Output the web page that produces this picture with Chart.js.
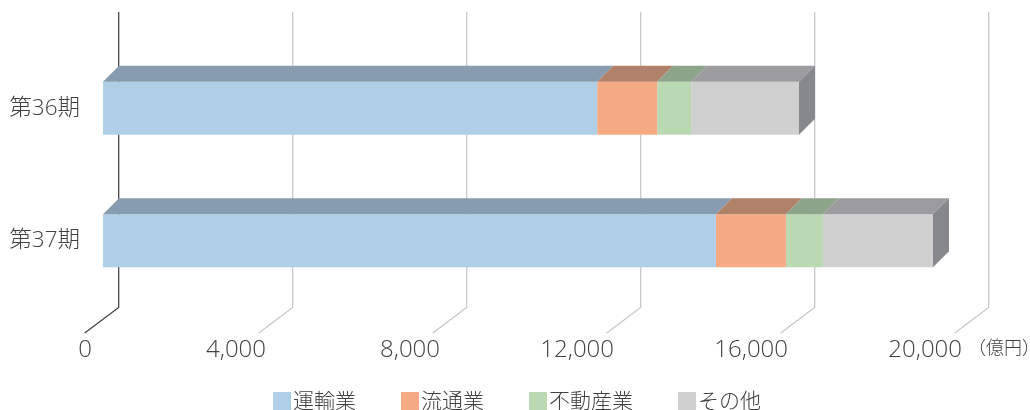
<!DOCTYPE html>
<html lang="ja">
<head>
<meta charset="utf-8">
<title>第36期 第37期</title>
<script src="https://cdn.jsdelivr.net/npm/chart.js@4/dist/chart.umd.min.js"></script>
<style>
    html, body { margin: 0; padding: 0; background: #fff; overflow: hidden; width: 1030px; height: 410px; }
    #wrap { position: relative; width: 1030px; height: 410px; }
    #legend { position: absolute; left: 273px; top: 385px; display: flex; font: 300 21px "Noto Sans CJK JP", sans-serif; color: #404040; line-height: 28px; white-space: nowrap; }
    #legend .item { display: flex; margin-right: 45px; }
    #legend .box { width: 18px; height: 18px; margin: 7px 2px 0 0; }
</style>
</head>
<body>
<div id="wrap">
    <canvas id="chart" width="1030" height="410"></canvas>
    <div id="legend"></div>
</div>
<script>
const categories = ["第36期", "第37期"];
const seriesNames = ["運輸業", "流通業", "不動産業", "その他"];
const transport = [11360, 14090];
const retail = [1380, 1610];
const realEstate = [780, 850];
const other = [2480, 2530];
const xTicks = [0, 4000, 8000, 12000, 16000, 20000];
const xTickLabels = ["0", "4,000", "8,000", "12,000", "16,000", "20,000"];
const unitLabel = "（億円）";

const frontColors = ["#AFCFE7", "#F5AA84", "#BAD9B3", "#D0D0D0"];
const topColors = ["#889CB0", "#B0826A", "#8CA48A", "#9C9C9F"];
const sideColor = "#87888B";
const textColor = "#404040";
const fontFamily = '"Open Sans", "Noto Sans CJK JP", sans-serif';
const depth = 16;

function polygon(ctx, points, color) {
    ctx.fillStyle = color;
    ctx.beginPath();
    points.forEach((p, i) => (i ? ctx.lineTo(p[0], p[1]) : ctx.moveTo(p[0], p[1])));
    ctx.closePath();
    ctx.fill();
}

// Back wall and floor lines, behind the bars
const wallGrid = {
    id: "wallGrid",
    beforeDatasetsDraw(chart) {
        const { ctx, scales } = chart;
        ctx.save();
        ctx.lineWidth = 1.25;
        xTicks.forEach((value, i) => {
            const x = scales.x.getPixelForValue(value) + depth - 0.3;
            ctx.strokeStyle = i === 0 ? "#404040" : "#C6C6C6";
            ctx.beginPath();
            ctx.moveTo(x, 12);
            ctx.lineTo(x, 307.5);
            ctx.lineTo(x - 34, 333);
            ctx.stroke();
        });
        ctx.restore();
    },
};

// Top and side faces of the stacked bars
const barFaces = {
    id: "barFaces",
    afterDatasetsDraw(chart) {
        const { ctx } = chart;
        const last = chart.data.datasets.length - 1;
        chart.data.datasets.forEach((ds, d) => {
            chart.getDatasetMeta(d).data.forEach((bar) => {
                const top = bar.y - bar.height / 2;
                const bottom = bar.y + bar.height / 2;
                polygon(ctx, [
                    [bar.base, top],
                    [bar.x, top],
                    [bar.x + depth, top - depth],
                    [bar.base + depth, top - depth],
                ], topColors[d]);
                if (d === last) {
                    polygon(ctx, [
                        [bar.x, top],
                        [bar.x + depth, top - depth],
                        [bar.x + depth, bottom - depth],
                        [bar.x, bottom],
                    ], sideColor);
                }
            });
        });
    },
};

// Value labels sit at the front end of the floor lines
const floorLabels = {
    id: "floorLabels",
    afterDraw(chart) {
        const { ctx, scales } = chart;
        ctx.save();
        ctx.fillStyle = textColor;
        ctx.textBaseline = "middle";
        ctx.textAlign = "right";
        ctx.font = "300 24px " + fontFamily;
        xTicks.forEach((value, i) => {
            ctx.fillText(xTickLabels[i], scales.x.getPixelForValue(value) - 11, 350);
        });
        ctx.textAlign = "left";
        ctx.font = "300 18px " + fontFamily;
        ctx.fillText(unitLabel, 968, 349);
        ctx.restore();
    },
};

new Chart(document.getElementById("chart").getContext("2d"), {
    type: "bar",
    data: {
        labels: categories,
        datasets: [transport, retail, realEstate, other].map((values, i) => ({
            label: seriesNames[i],
            data: values,
            backgroundColor: frontColors[i],
            borderWidth: 0,
            barPercentage: 0.4,
            categoryPercentage: 1,
        })),
    },
    options: {
        indexAxis: "y",
        responsive: false,
        animation: false,
        layout: { padding: { top: 42, right: 57, bottom: 103, left: 0 } },
        plugins: { legend: { display: false }, tooltip: { enabled: false } },
        scales: {
            x: {
                stacked: true,
                min: 0,
                max: 20000,
                grid: { display: false },
                border: { display: false },
                afterFit(scale) { scale.height = 0; },
                ticks: { display: false, stepSize: 4000 },
            },
            y: {
                stacked: true,
                grid: { display: false, drawTicks: false },
                border: { display: false },
                afterFit(scale) { scale.width = 103; },
                ticks: {
                    color: textColor,
                    padding: 23,
                    font: { family: fontFamily, size: 22.5, weight: 300 },
                },
            },
        },
    },
    plugins: [wallGrid, barFaces, floorLabels],
});

// Legend as plain HTML, the swatches sit close to the text
document.getElementById("legend").innerHTML = seriesNames
    .map((name, i) => `<span class="item"><span class="box" style="background:${frontColors[i]}"></span>${name}</span>`)
    .join("");
</script>
</body>
</html>
